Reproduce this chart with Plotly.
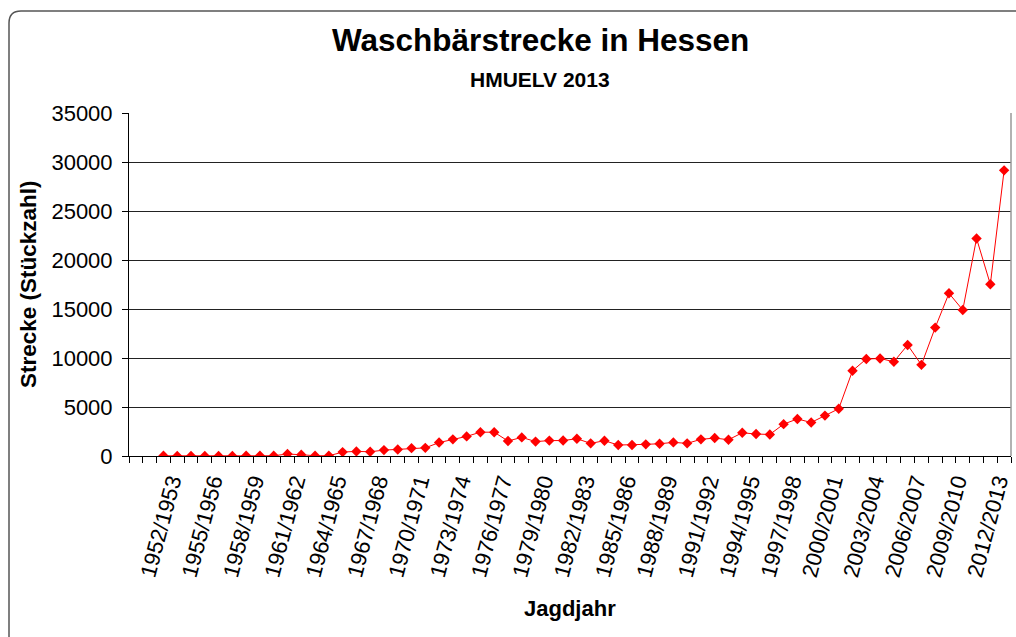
import plotly.graph_objects as go

seasons = [f"{y}/{y+1}" for y in range(1949, 2013)]  # 64 category slots
strecke = [None, None,
           20, 10, 10, 10, 10, 10, 20, 20, 30, 200,
           130, 30, 20, 400, 470, 430, 600, 670, 800, 830,
           1370, 1700, 2000, 2430, 2430, 1530, 1900, 1470, 1570, 1580,
           1760, 1290, 1560, 1120, 1120, 1190, 1250, 1390, 1290, 1700,
           1830, 1660, 2370, 2240, 2200, 3250, 3780, 3420, 4120, 4820,
           8700, 9900, 9950, 9620, 11330, 9300, 13100, 16600, 14900, 22200,
           17520, 29150]
label_idx = list(range(3, 64, 3))
tick_labels = [seasons[i] for i in label_idx]

x_idx = list(range(len(seasons)))

FONT = "Liberation Sans, Arial, sans-serif"
L, R, T, B = 129, 5, 113, 181
W, H = 1016, 637
pw, ph = W - L - R, H - T - B

def px(x):
    return (x - L) / pw

def py(y):
    return (H - B - y) / ph

# small leftward nudge so the rotated label ends sit like the reference
label_pos = [i - 0.45 for i in label_idx]

fig = go.Figure()
fig.add_trace(go.Scatter(
    x=x_idx, y=strecke, mode="lines+markers",
    line=dict(color="#ff0000", width=1),
    marker=dict(symbol="diamond", size=8, color="#ff0000"),
    connectgaps=False, showlegend=False, hoverinfo="x+y"))

fig.update_layout(
    width=W, height=H,
    margin=dict(l=L, r=R, t=T, b=B, autoexpand=False),
    paper_bgcolor="white", plot_bgcolor="white",
    font=dict(family=FONT, size=22, color="black"),
    xaxis=dict(
        range=[-0.5, 63.5], tickmode="array", tickvals=label_pos, ticktext=tick_labels,
        tickangle=-75, ticks="", showgrid=False, zeroline=False,
        showline=True, linecolor="black", linewidth=1, automargin=False,
        tickfont=dict(size=22), ticklabelstandoff=3, ticklabeloverflow="allow",
        minor=dict(tickmode="linear", tick0=-0.5, dtick=1, ticks="outside",
                   ticklen=6, tickcolor="black", tickwidth=1, showgrid=False),
    ),
    yaxis=dict(
        range=[0, 35000], tickmode="linear", tick0=0, dtick=5000,
        showgrid=True, gridcolor="#222222", gridwidth=1, zeroline=False,
        showline=True, linecolor="black", linewidth=1, automargin=False,
        ticks="outside", ticklen=6, tickcolor="black",
        tickfont=dict(size=22), tickformat="d", ticklabelstandoff=5,
    ),
    annotations=[
        dict(text="<b>Waschbärstrecke in Hessen</b>", x=px(540), y=py(40),
             xref="paper", yref="paper", showarrow=False, xanchor="center",
             yanchor="middle", font=dict(size=31.5, family=FONT)),
        dict(text="<b>HMUELV 2013</b>", x=px(540), y=py(79),
             xref="paper", yref="paper", showarrow=False, xanchor="center",
             yanchor="middle", font=dict(size=21, family=FONT)),
        dict(text="<b>Jagdjahr</b>", x=0.5, y=py(608),
             xref="paper", yref="paper", showarrow=False, xanchor="center",
             yanchor="middle", font=dict(size=22, family=FONT)),
        dict(text="<b>Strecke (Stückzahl)</b>", x=px(28), y=py(284), textangle=-90,
             xref="paper", yref="paper", showarrow=False, xanchor="center",
             yanchor="middle", font=dict(size=22.5, family=FONT)),
    ],
    shapes=[
        dict(type="path", xref="paper", yref="paper",
             path=(f"M {px(9)},{py(660)} L {px(9)},{py(23)} "
                   f"Q {px(9)},{py(11)} {px(21)},{py(11)} L {px(1040)},{py(11)}"),
             line=dict(color="#555555", width=1.5)),
        dict(type="line", xref="paper", yref="paper", x0=1, x1=1, y0=0, y1=1,
             line=dict(color="#999999", width=1.5)),
    ],
)

fig.write_html(
    "out.html", config={"displayModeBar": False},
    post_script=("document.body.style.margin='0';"
                 "document.body.style.overflow='hidden';"
                 "document.documentElement.style.overflow='hidden';"))
